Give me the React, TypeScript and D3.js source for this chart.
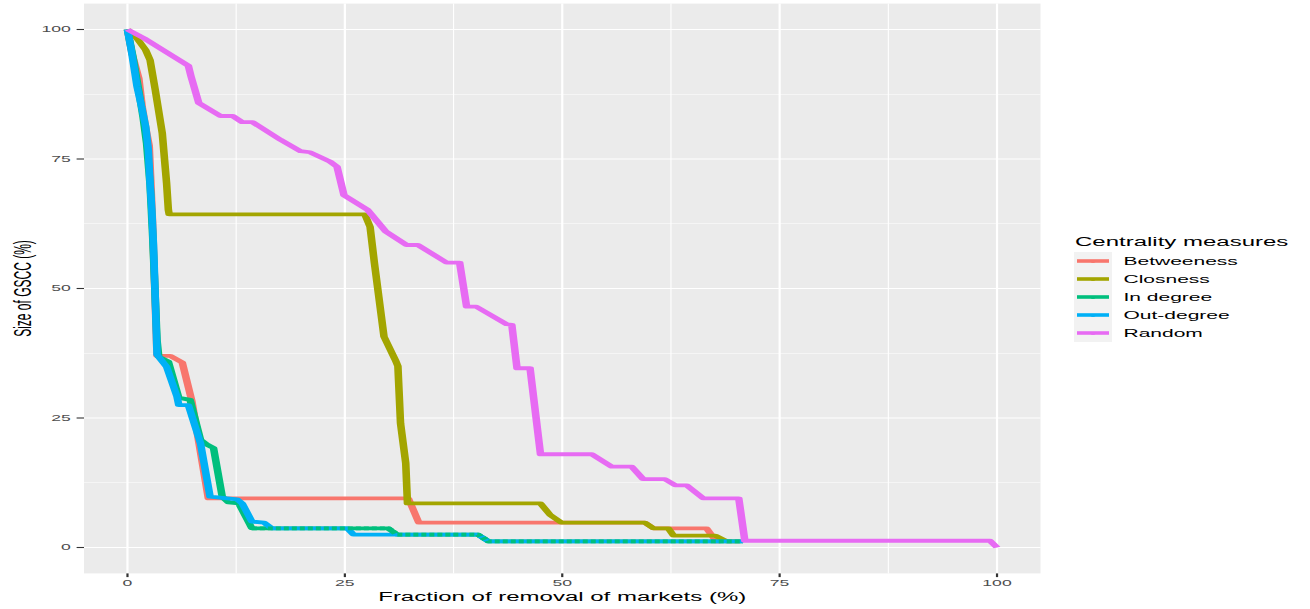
import React from 'react'
import * as d3 from 'd3'

// ggplot2-style robustness curve. The reference is a raster that was stretched
// horizontally about 2x, so everything is drawn in a 655-wide frame and scaled.
const SX = 2

const seriesNames = ['Betweeness', 'Closness', 'In degree', 'Out-degree', 'Random']
const seriesColors = ['#F8766D', '#A3A500', '#00BF7D', '#00B0F6', '#E76BF3']

// [fraction removed (%), size of GSCC (%)] breakpoints
const betweeness: [number, number][] = [
  [0, 100], [0.5, 95.5], [1.3, 90.6], [1.7, 85], [2.1, 81], [2.5, 77.5], [2.7, 70], [2.9, 62],
  [3.1, 52], [3.3, 42], [3.4, 37], [4.9, 37], [6.3, 35.7], [7.4, 28.3], [8.2, 20.4], [9.3, 9.5],
  [32.3, 9.5], [33.5, 4.8], [59.5, 4.8], [60.5, 3.7], [66.6, 3.7], [67.7, 1.2], [68.2, 1.2],
]
const closness: [number, number][] = [
  [0, 100], [1.1, 98.3], [2.1, 96], [2.6, 94.1], [3.2, 88.3], [4.0, 80], [4.5, 70.3], [4.7, 65.2],
  [4.8, 64.3], [27.3, 64.3], [27.9, 61.9], [28.4, 54.9], [29.5, 40.7], [30.8, 36.2], [31.1, 35],
  [31.4, 24], [32.0, 16.3], [32.2, 8.5], [47.5, 8.5], [48.6, 6.3], [49.9, 4.8], [59.5, 4.8],
  [60.5, 3.7], [62.2, 3.7], [62.8, 2.3], [67.6, 2.3], [68.9, 1.2], [70.5, 1.2],
]
const inDegree: [number, number][] = [
  [0, 100], [0.6, 95], [1.3, 88.2], [1.8, 83], [2.2, 78], [2.6, 70], [2.9, 60], [3.2, 48],
  [3.4, 40], [3.6, 36.8], [4.7, 35.9], [5.9, 28.9], [7.2, 28.5], [8.4, 20.8], [9.2, 19.8],
  [9.9, 19.2], [10.9, 9.8], [11.6, 8.7], [12.8, 8.5], [14.3, 3.7], [30.0, 3.7], [31.0, 2.5],
  [40.3, 2.5], [41.5, 1.2], [70.8, 1.2],
]
const outDegree: [number, number][] = [
  [0, 100], [0.5, 95.4], [1.1, 89], [1.7, 84.5], [2.1, 81.2], [2.4, 76.7], [2.6, 70.3], [2.8, 65.2],
  [3.0, 58], [3.2, 48], [3.4, 37.2], [4.5, 34.9], [5.7, 29.1], [5.9, 27.5], [7.0, 27.5], [8.4, 20.1],
  [9.5, 9.8], [12.6, 9.3], [13.2, 8.5], [14.3, 5.0], [15.7, 4.8], [16.6, 3.7], [25.3, 3.7],
  [26.0, 2.5], [40.3, 2.5], [41.5, 1.2], [70.8, 1.2],
]
const random: [number, number][] = [
  [0, 100], [1.9, 98.3], [4.4, 95.7], [7.0, 93.0], [7.3, 91], [8.2, 85.8], [10.7, 83.3], [12.1, 83.3],
  [13.2, 82.1], [14.4, 82.1], [17.6, 78.7], [19.9, 76.5], [21.0, 76.3], [23.3, 74.5], [24.1, 73.5],
  [24.9, 68], [27.6, 65.2], [29.7, 61], [32.1, 58.4], [33.4, 58.4], [36.7, 55], [38.2, 55],
  [39.0, 46.5], [40.1, 46.5], [43.6, 43.1], [44.2, 43], [44.8, 34.6], [46.3, 34.6], [47.5, 18.0],
  [53.4, 18.0], [55.7, 15.6], [58.0, 15.6], [59.3, 13.2], [61.8, 13.2], [63.0, 12.0], [64.3, 12.0],
  [66.2, 9.5], [70.3, 9.5], [71.0, 1.3], [99.2, 1.3], [100, 0],
]
const seriesData = [betweeness, closness, inDegree, outDegree, random]

const xTicks = [0, 25, 50, 75, 100]
const yTicks = [0, 25, 50, 75, 100]
const minorTicks = [12.5, 37.5, 62.5, 87.5]

export default function App() {
  const W = 1310
  const H = 609
  const panel = { left: 42, right: 520.25, top: 3.6, bottom: 573.4 }

  const x = d3.scaleLinear().domain([-5, 105]).range([panel.left, panel.right])
  const y = d3.scaleLinear().domain([-5, 105]).range([panel.bottom, panel.top])

  const line = d3
    .line<[number, number]>()
    .x((d) => x(d[0]))
    .y((d) => y(d[1]))
    .curve(d3.curveLinear)

  // in the reference green and blue points interleave where the two curves share a
  // flat tail; a dashed green pass over that tail gives the same mixed look
  const inDegreeTail = inDegree.filter((d) => d[0] >= 14.3)

  const font = '"Liberation Sans", Arial, Helvetica, sans-serif'
  const legendX = 537
  const legendTop = 252
  const keyH = 18

  return (
    <div style={{ position: 'fixed', left: 0, top: 0 }}>
      <svg width={W} height={H} style={{ display: 'block', background: '#fff' }} fontFamily={font}>
        <g transform={`scale(${SX},1)`}>
          {/* panel */}
          <rect
            x={panel.left}
            y={panel.top}
            width={panel.right - panel.left}
            height={panel.bottom - panel.top}
            fill="#EBEBEB"
          />
          {/* minor grid */}
          {minorTicks.map((t) => (
            <g key={'m' + t}>
              <line x1={x(t)} x2={x(t)} y1={panel.top} y2={panel.bottom} stroke="#fff" strokeWidth={0.55} />
              <line x1={panel.left} x2={panel.right} y1={y(t)} y2={y(t)} stroke="#fff" strokeWidth={0.55} />
            </g>
          ))}
          {/* major grid */}
          {xTicks.map((t) => (
            <line key={'gx' + t} x1={x(t)} x2={x(t)} y1={panel.top} y2={panel.bottom} stroke="#fff" strokeWidth={1.1} />
          ))}
          {yTicks.map((t) => (
            <line key={'gy' + t} x1={panel.left} x2={panel.right} y1={y(t)} y2={y(t)} stroke="#fff" strokeWidth={1.1} />
          ))}

          {/* series */}
          {seriesData.slice(0, 4).map((d, i) => (
            <path
              key={seriesNames[i]}
              d={line(d) || ''}
              fill="none"
              stroke={seriesColors[i]}
              strokeWidth={3.8}
              strokeLinejoin="round"
            />
          ))}
          <path
            d={line(inDegreeTail) || ''}
            fill="none"
            stroke={seriesColors[2]}
            strokeWidth={3.8}
            strokeDasharray="2.5,1.5"
          />
          <path
            d={line(random) || ''}
            fill="none"
            stroke={seriesColors[4]}
            strokeWidth={3.8}
            strokeLinejoin="round"
          />

          {/* axes ticks and labels */}
          {xTicks.map((t) => (
            <g key={'tx' + t}>
              <line x1={x(t)} x2={x(t)} y1={panel.bottom} y2={panel.bottom + 3.7} stroke="#333" strokeWidth={1.1} />
              <text x={x(t)} y={panel.bottom + 13} textAnchor="middle" fontSize={8.8} fill="#4D4D4D">
                {t}
              </text>
            </g>
          ))}
          {yTicks.map((t) => (
            <g key={'ty' + t}>
              <line x1={panel.left - 3.7} x2={panel.left} y1={y(t)} y2={y(t)} stroke="#333" strokeWidth={1.1} />
              <text x={panel.left - 6.6} y={y(t)} dy="0.32em" textAnchor="end" fontSize={8.8} fill="#4D4D4D">
                {t}
              </text>
            </g>
          ))}

          {/* axis titles */}
          <text x={(panel.left + panel.right) / 2} y={601} textAnchor="middle" fontSize={12} fill="#000">
            Fraction of removal of markets (%)
          </text>
          <text
            transform={`translate(15.5, ${(panel.top + panel.bottom) / 2}) rotate(-90)`}
            textAnchor="middle"
            fontSize={12}
            fill="#000"
          >
            Size of GSCC (%)
          </text>

          {/* legend */}
          <text x={legendX + 0.5} y={246.5} fontSize={12} fill="#000">
            Centrality measures
          </text>
          {seriesNames.map((name, i) => {
            const cy = legendTop + keyH * i + keyH / 2
            return (
              <g key={'lg' + name}>
                <rect x={legendX} y={legendTop + keyH * i} width={19} height={keyH} fill="#F2F2F2" />
                <line x1={legendX + 1.5} x2={legendX + 17.5} y1={cy} y2={cy} stroke={seriesColors[i]} strokeWidth={3.6} />
                <circle cx={legendX + 9.5} cy={cy + 0.6} r={1.3} fill={seriesColors[i]} />
                <text x={561.75} y={cy} dy="0.36em" fontSize={10.5} fill="#000">
                  {name}
                </text>
              </g>
            )
          })}
        </g>
      </svg>
    </div>
  )
}
